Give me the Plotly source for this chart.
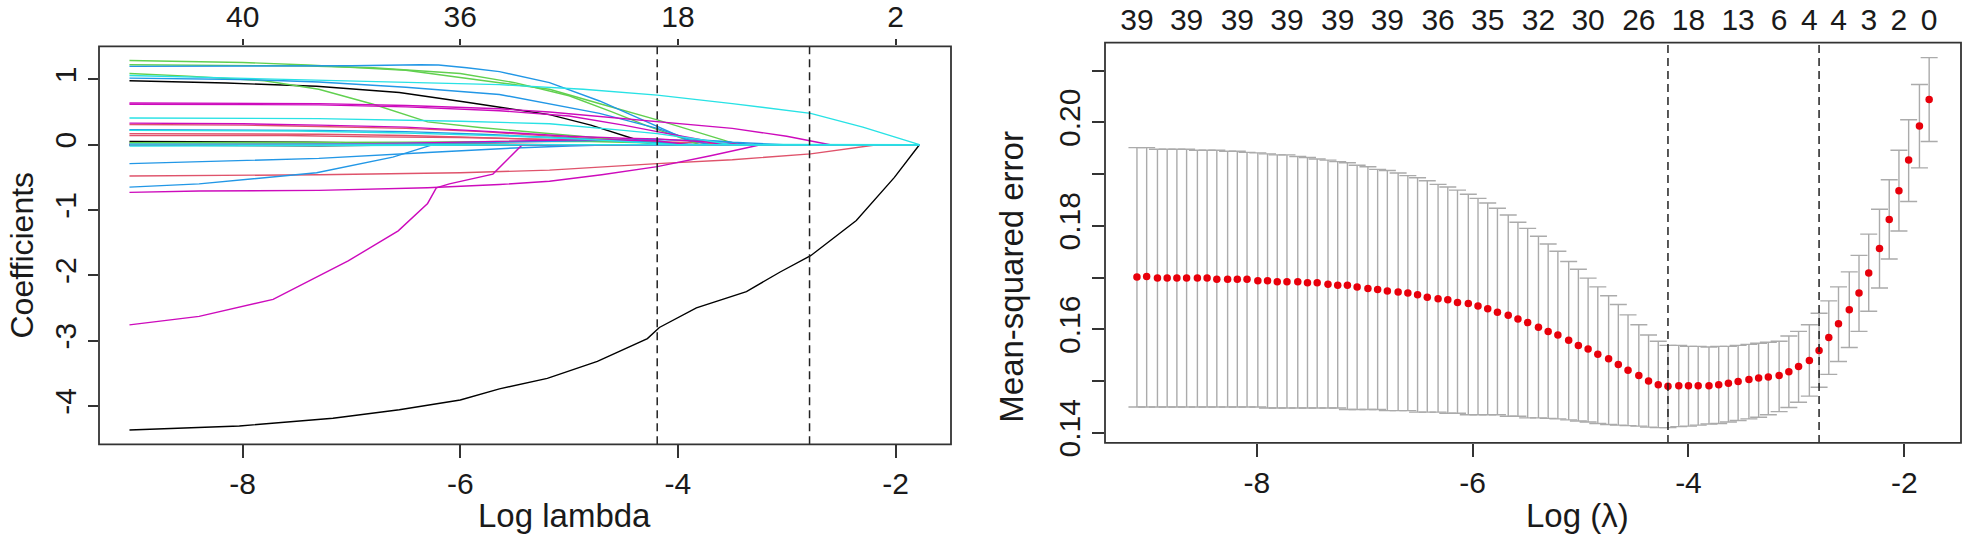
import plotly.graph_objects as go

# cv grid (log lambda), index 0 = largest lambda
log_lambda = [-1.77, -1.86, -1.96, -2.05, -2.14, -2.23, -2.33, -2.42, -2.51, -2.61,
              -2.70, -2.79, -2.88, -2.98, -3.07, -3.16, -3.26, -3.35, -3.44, -3.54,
              -3.63, -3.72, -3.81, -3.91, -4.00, -4.09, -4.19, -4.28, -4.37, -4.46,
              -4.56, -4.65, -4.74, -4.84, -4.93, -5.02, -5.11, -5.21, -5.30, -5.39,
              -5.49, -5.58, -5.67, -5.77, -5.86, -5.95, -6.04, -6.14, -6.23, -6.32,
              -6.42, -6.51, -6.60, -6.69, -6.79, -6.88, -6.97, -7.07, -7.16, -7.25,
              -7.34, -7.44, -7.53, -7.62, -7.72, -7.81, -7.90, -7.99, -8.09, -8.18,
              -8.27, -8.37, -8.46, -8.55, -8.65, -8.74, -8.83, -8.92, -9.02, -9.11]

cv_mse = [0.2044, 0.1993, 0.1927, 0.1868, 0.1812, 0.1756, 0.1709, 0.1670, 0.1638, 0.1611,
          0.1584, 0.1559, 0.1540, 0.1528, 0.1518, 0.1511, 0.1508, 0.1506, 0.1503, 0.1499,
          0.1496, 0.1493, 0.1491, 0.1491, 0.1491, 0.1491, 0.1490, 0.1493, 0.1500, 0.1511,
          0.1521, 0.1532, 0.1543, 0.1552, 0.1562, 0.1569, 0.1579, 0.1589, 0.1596, 0.1604,
          0.1613, 0.1620, 0.1627, 0.1633, 0.1640, 0.1645, 0.1650, 0.1652, 0.1657, 0.1659,
          0.1662, 0.1667, 0.1670, 0.1672, 0.1674, 0.1677, 0.1679, 0.1682, 0.1685, 0.1685,
          0.1687, 0.1690, 0.1690, 0.1692, 0.1692, 0.1692, 0.1694, 0.1694, 0.1697, 0.1697,
          0.1697, 0.1697, 0.1699, 0.1699, 0.1699, 0.1699, 0.1699, 0.1699, 0.1702, 0.1701]

cv_upper = [0.2125, 0.2073, 0.2005, 0.1946, 0.1889, 0.1832, 0.1784, 0.1743, 0.1711, 0.1682,
            0.1655, 0.1631, 0.1609, 0.1596, 0.1587, 0.1577, 0.1575, 0.1573, 0.1571, 0.1569,
            0.1567, 0.1567, 0.1566, 0.1567, 0.1567, 0.1569, 0.1569, 0.1577, 0.1589, 0.1609,
            0.1628, 0.1648, 0.1665, 0.1682, 0.1699, 0.1716, 0.1731, 0.1751, 0.1765, 0.1780,
            0.1795, 0.1807, 0.1821, 0.1834, 0.1844, 0.1853, 0.1861, 0.1869, 0.1875, 0.1880,
            0.1887, 0.1893, 0.1897, 0.1902, 0.1907, 0.1909, 0.1914, 0.1917, 0.1922, 0.1924,
            0.1927, 0.1929, 0.1932, 0.1934, 0.1937, 0.1937, 0.1939, 0.1941, 0.1942, 0.1944,
            0.1944, 0.1946, 0.1946, 0.1946, 0.1948, 0.1948, 0.1948, 0.1948, 0.1951, 0.1951]

cv_lower = [0.1963, 0.1912, 0.1847, 0.1790, 0.1736, 0.1680, 0.1635, 0.1596, 0.1565, 0.1538,
            0.1513, 0.1488, 0.1471, 0.1459, 0.1449, 0.1441, 0.1435, 0.1430, 0.1427, 0.1424,
            0.1421, 0.1418, 0.1417, 0.1415, 0.1413, 0.1412, 0.1410, 0.1410, 0.1411, 0.1413,
            0.1414, 0.1415, 0.1416, 0.1418, 0.1421, 0.1423, 0.1425, 0.1427, 0.1428, 0.1429,
            0.1429, 0.1432, 0.1432, 0.1435, 0.1435, 0.1435, 0.1435, 0.1438, 0.1438, 0.1440,
            0.1440, 0.1440, 0.1443, 0.1443, 0.1443, 0.1445, 0.1445, 0.1445, 0.1445, 0.1448,
            0.1448, 0.1448, 0.1448, 0.1448, 0.1448, 0.1448, 0.1448, 0.1450, 0.1450, 0.1450,
            0.1450, 0.1450, 0.1450, 0.1450, 0.1450, 0.1450, 0.1450, 0.1450, 0.1450, 0.1450]

# number of nonzero coefs shown on top of the cv plot
nz_idx = [0, 3, 6, 9, 12, 15, 19, 24, 29, 34, 39, 44, 49, 54, 59, 64, 69, 74, 79]
nz_text = ["0", "2", "3", "4", "4", "6", "13", "18", "26", "30", "32", "35", "36",
           "39", "39", "39", "39", "39", "39"]

idx_min = 26
idx_1se = 11

# top axis of coefficient plot
coef_top_vals = [-8, -6, -4, -2]
coef_top_text = ["40", "36", "18", "2"]

# coefficient paths (log lambda, coef), grouped by R palette colour
black_paths = [
    [(-9.04, -4.37), (-8.03, -4.31), (-7.17, -4.19), (-6.56, -4.06), (-6.0, -3.91), (-5.64, -3.74),
     (-5.2, -3.58), (-4.74, -3.32), (-4.28, -2.97), (-4.17, -2.8), (-3.83, -2.5), (-3.37, -2.25),
     (-3.06, -1.95), (-2.78, -1.7), (-2.36, -1.16), (-2.01, -0.5), (-1.78, 0.0)],
    [(-9.04, 0.98), (-8.15, 0.945), (-7.32, 0.895), (-6.56, 0.80), (-5.94, 0.65), (-5.64, 0.575),
     (-5.18, 0.46), (-4.8, 0.3), (-4.53, 0.157), (-4.35, 0.06), (-4.2, 0.0)],
    [(-9.04, 0.05), (-7.4, 0.04), (-6.5, 0.02), (-5.6, 0.005), (-5.2, 0.0)],
    [(-9.04, -0.005), (-7.7, -0.02), (-7.3, -0.015), (-6.3, 0.0)],
]
red_paths = [
    [(-9.04, -0.48), (-7.3, -0.46), (-6.0, -0.43), (-5.18, -0.39), (-4.19, -0.29), (-3.5, -0.23),
     (-2.78, -0.14), (-2.17, 0.0)],
    [(-9.04, 0.17), (-8.0, 0.17), (-7.3, 0.16), (-6.5, 0.14), (-5.5, 0.10), (-5.0, 0.08), (-4.5, 0.05),
     (-4.2, 0.03), (-3.9, 0.0)],
    [(-9.04, 0.14), (-7.6, 0.14), (-6.8, 0.12), (-6.0, 0.11), (-5.2, 0.08), (-4.4, 0.05), (-3.8, 0.03),
     (-3.5, 0.0)],
    [(-9.04, 0.31), (-8.0, 0.30), (-7.3, 0.28), (-6.5, 0.25), (-5.8, 0.2), (-5.0, 0.12), (-4.5, 0.06),
     (-4.1, 0.0)],
    [(-9.04, 0.02), (-7.0, 0.02), (-6.0, 0.01), (-5.0, 0.0)],
]
green_paths = [
    [(-9.04, 1.29), (-8.0, 1.26), (-7.4, 1.22), (-6.5, 1.14), (-5.64, 0.95), (-5.18, 0.85), (-4.7, 0.62),
     (-4.19, 0.38), (-3.58, 0.07), (-3.45, 0.0)],
    [(-9.04, 1.225), (-8.0, 1.215), (-7.4, 1.205), (-6.8, 1.18), (-6.0, 1.09), (-5.5, 0.95), (-5.0, 0.75),
     (-4.6, 0.5), (-4.3, 0.3), (-4.0, 0.12), (-3.8, 0.0)],
    [(-9.04, 1.09), (-8.5, 1.05), (-7.8, 0.98), (-7.3, 0.85), (-6.8, 0.62), (-6.3, 0.35), (-5.8, 0.26),
     (-5.3, 0.19), (-4.8, 0.12), (-4.3, 0.05), (-4.0, 0.0)],
    [(-9.04, 0.03), (-7.5, 0.03), (-6.5, 0.04), (-5.5, 0.05), (-4.8, 0.05), (-4.3, 0.03), (-4.0, 0.0)],
]
blue_paths = [
    [(-9.04, 1.20), (-8.0, 1.20), (-7.0, 1.21), (-6.37, 1.225), (-6.2, 1.22), (-5.94, 1.18), (-5.64, 1.12),
     (-5.18, 0.95), (-4.72, 0.67), (-4.19, 0.28), (-3.92, 0.08), (-3.7, 0.0)],
    [(-9.04, 1.02), (-8.0, 1.0), (-7.3, 0.96), (-6.5, 0.88), (-5.64, 0.77), (-4.72, 0.48), (-4.19, 0.25),
     (-3.9, 0.09), (-3.5, 0.04), (-3.03, 0.0)],
    [(-9.04, -0.29), (-7.3, -0.21), (-6.3, -0.12), (-5.5, -0.05), (-5.0, -0.02), (-4.6, 0.0)],
    [(-9.04, -0.65), (-8.4, -0.6), (-7.32, -0.43), (-6.62, -0.19), (-6.28, -0.015), (-6.25, 0.0)],
    [(-9.04, 0.23), (-8.0, 0.23), (-7.3, 0.22), (-6.5, 0.2), (-5.8, 0.16), (-5.0, 0.1), (-4.5, 0.06),
     (-4.2, 0.04), (-3.8, 0.0)],
    [(-9.04, 0.0), (-7.0, 0.01), (-6.0, 0.03), (-5.0, 0.06), (-4.5, 0.08), (-4.19, 0.08), (-3.6, 0.05),
     (-3.3, 0.0)],
]
magenta_paths = [
    [(-9.04, 0.64), (-7.3, 0.63), (-6.5, 0.6), (-5.64, 0.55), (-5.18, 0.50), (-4.7, 0.43), (-4.19, 0.35),
     (-3.5, 0.25), (-3.0, 0.13), (-2.63, 0.02), (-2.6, 0.0)],
    [(-9.04, 0.62), (-7.3, 0.61), (-6.5, 0.58), (-5.64, 0.52), (-5.0, 0.44), (-4.5, 0.3), (-4.19, 0.2),
     (-3.8, 0.08), (-3.6, 0.0)],
    [(-9.04, -0.73), (-8.4, -0.71), (-7.3, -0.70), (-6.3, -0.66), (-5.64, -0.61), (-5.18, -0.56),
     (-4.7, -0.46), (-4.19, -0.335), (-3.7, -0.17), (-3.24, 0.0)],
    [(-9.04, -2.76), (-8.4, -2.63), (-7.72, -2.37), (-7.03, -1.78), (-6.57, -1.32), (-6.3, -0.9),
     (-6.22, -0.66), (-6.1, -0.6), (-5.7, -0.45), (-5.55, -0.2), (-5.43, 0.0)],
    [(-9.04, 0.33), (-8.0, 0.32), (-7.3, 0.3), (-6.5, 0.27), (-5.7, 0.2), (-5.0, 0.13), (-4.5, 0.1),
     (-4.19, 0.09), (-3.8, 0.05), (-3.4, 0.0)],
    [(-9.04, 0.0), (-7.6, 0.0), (-6.6, 0.02), (-5.5, 0.06), (-4.8, 0.08), (-4.2, 0.06), (-3.9, 0.0)],
]
cyan_paths = [
    [(-9.04, 1.06), (-7.3, 0.99), (-5.64, 0.92), (-4.87, 0.85), (-4.19, 0.76), (-3.5, 0.63), (-2.78, 0.48),
     (-2.3, 0.27), (-1.78, 0.0)],
    [(-9.04, 0.41), (-7.3, 0.40), (-6.0, 0.36), (-5.18, 0.32), (-4.5, 0.22), (-4.19, 0.17), (-3.8, 0.08),
     (-3.5, 0.0)],
    [(-9.04, 0.22), (-7.5, 0.21), (-6.5, 0.18), (-5.5, 0.13), (-4.8, 0.08), (-4.2, 0.02), (-4.0, 0.0)],
    [(-9.04, -0.02), (-7.0, -0.02), (-6.3, -0.01), (-5.5, 0.0)],
    [(-9.04, 0.01), (-7.5, 0.01), (-6.3, 0.0)],
]

path_end = -1.78

FONT = "Liberation Sans, Arial, sans-serif"
W, H = 1969, 546

palette = [
    (black_paths, "#000000"),
    (red_paths, "#DF536B"),
    (green_paths, "#61D04F"),
    (blue_paths, "#2297E6"),
    (magenta_paths, "#CD0BBC"),
    (cyan_paths, "#28E2E5"),
]

fig = go.Figure()

#%% left: coefficient paths
for paths, col in palette:
    for p in paths:
        xs = [a for a, b in p]
        ys = [b for a, b in p]
        if xs[-1] < path_end:
            xs = xs + [path_end]
            ys = ys + [0.0]
        fig.add_trace(go.Scatter(x=xs, y=ys, mode="lines", line=dict(color=col, width=1.4),
                                 xaxis="x", yaxis="y", showlegend=False, hoverinfo="skip"))

# dummy trace so the top axis is drawn
fig.add_trace(go.Scatter(x=[-8, -2], y=[0, 0], mode="markers", marker=dict(opacity=0),
                         xaxis="x2", yaxis="y", showlegend=False, hoverinfo="skip"))

#%% right: cv curve
err_plus = [u - m for u, m in zip(cv_upper, cv_mse)]
err_minus = [m - l for m, l in zip(cv_mse, cv_lower)]

fig.add_trace(go.Scatter(
    x=log_lambda, y=cv_mse, mode="markers",
    marker=dict(color="#E8000B", size=7.5, line=dict(width=0)),
    error_y=dict(type="data", symmetric=False, array=err_plus, arrayminus=err_minus,
                 color="#ABABAB", thickness=1.4, width=8.5),
    xaxis="x3", yaxis="y2", showlegend=False, hoverinfo="skip"))

fig.add_trace(go.Scatter(x=[log_lambda[0], log_lambda[-1]], y=[0.17, 0.17], mode="markers",
                         marker=dict(opacity=0), xaxis="x4", yaxis="y2",
                         showlegend=False, hoverinfo="skip"))

# dashed lambda.min / lambda.1se lines
shapes = []
for xr, yr in [("x", "y domain"), ("x3", "y2 domain")]:
    for k in (idx_min, idx_1se):
        shapes.append(dict(type="line", xref=xr, yref=yr, x0=log_lambda[k], x1=log_lambda[k],
                           y0=0, y1=1, line=dict(color="#222222", width=1.5, dash="8px,5px")))
for xr, yr in [("x domain", "y domain"), ("x3 domain", "y2 domain")]:
    shapes.append(dict(type="rect", xref=xr, yref=yr, x0=0, x1=1, y0=0, y1=1,
                       line=dict(color="#333333", width=1.8)))

tick_font = dict(family=FONT, size=30, color="#1a1a1a")
axis_common = dict(showgrid=False, zeroline=False, showline=False, ticks="outside",
                   tickcolor="#333333", tickwidth=1.6, tickfont=tick_font)

left_dom = [99 / W, 951 / W]
left_ydom = [1 - 455 / H, 1 - 42 / H]
right_dom = [1105 / W, 1961 / W]
right_ydom = [1 - 453.5 / H, 1 - 38 / H]

mse_ticks = [0.14, 0.15, 0.16, 0.17, 0.18, 0.19, 0.20, 0.21]
mse_text = ["0.14", "", "0.16", "", "0.18", "", "0.20", ""]

fig.update_layout(
    width=W, height=H, autosize=False,
    margin=dict(l=0, r=0, t=0, b=0),
    paper_bgcolor="white", plot_bgcolor="white",
    font=dict(family=FONT, color="#1a1a1a"),
    shapes=shapes,
    xaxis=dict(domain=left_dom, anchor="y", range=[-9.32, -1.49],
               tickvals=[-8, -6, -4, -2], ticktext=["-8", "-6", "-4", "-2"],
               ticklen=13, **axis_common),
    xaxis2=dict(overlaying="x", anchor="y", side="top", range=[-9.32, -1.49],
                tickvals=coef_top_vals, ticktext=coef_top_text, ticklen=6, **axis_common),
    yaxis=dict(domain=left_ydom, anchor="x", range=[-4.59, 1.505],
               tickvals=[-4, -3, -2, -1, 0, 1], ticktext=["-4", "-3", "-2", "-1", "0", "1"],
               tickangle=-90, ticklen=10, **axis_common),
    xaxis3=dict(domain=right_dom, anchor="y2", range=[-9.406, -1.475],
                tickvals=[-8, -6, -4, -2], ticktext=["-8", "-6", "-4", "-2"],
                ticklen=13, **axis_common),
    xaxis4=dict(overlaying="x3", anchor="y2", side="top", range=[-9.406, -1.475],
                tickvals=[log_lambda[i] for i in nz_idx], ticktext=nz_text,
                ticklen=0, **axis_common),
    yaxis2=dict(domain=right_ydom, anchor="x3", range=[0.13806, 0.2154],
                tickvals=mse_ticks, ticktext=mse_text, tickangle=-90, ticklen=12,
                **axis_common),
    annotations=[
        dict(text="Coefficients", x=22 / W, y=1 - 259 / H, xref="paper", yref="paper",
             textangle=-90, showarrow=False, xanchor="center", yanchor="middle",
             font=dict(family=FONT, size=32, color="#1a1a1a")),
        dict(text="Log lambda", x=564 / W, y=1 - 529 / H, xref="paper", yref="paper",
             showarrow=False, xanchor="center", yanchor="middle",
             font=dict(family=FONT, size=33, color="#1a1a1a")),
        dict(text="Mean-squared error", x=1012 / W, y=1 - 281 / H, xref="paper", yref="paper",
             textangle=-90, showarrow=False, xanchor="center", yanchor="middle",
             font=dict(family=FONT, size=33, color="#1a1a1a")),
        dict(text="Log (λ)", x=1577 / W, y=1 - 529 / H, xref="paper", yref="paper",
             showarrow=False, xanchor="center", yanchor="middle",
             font=dict(family=FONT, size=33, color="#1a1a1a")),
    ],
)

fig.write_html("out.html", config={"displayModeBar": False},
               post_script="document.body.style.margin='0';document.body.style.overflow='hidden';")
